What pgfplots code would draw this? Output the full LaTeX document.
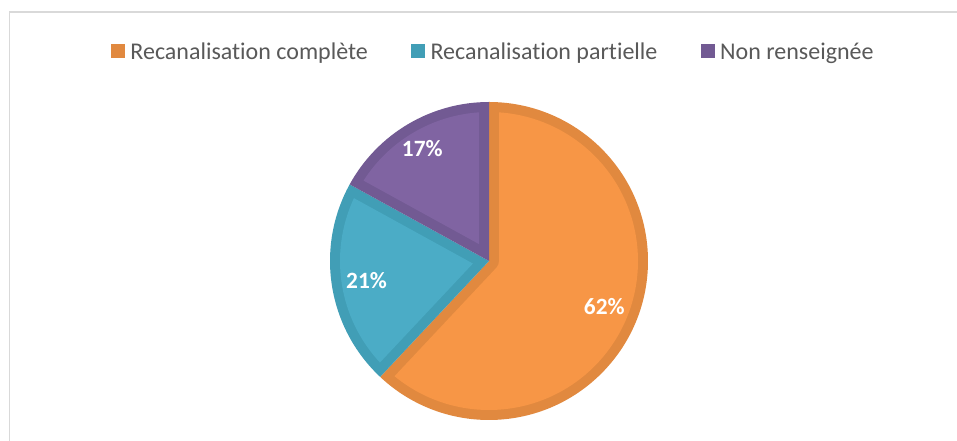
\documentclass[border=0pt]{standalone}
\usepackage{fontspec}
\setmainfont[Ligatures=NoCommon]{Carlito}
\usepackage{pgfplots}
\pgfplotsset{compat=1.18}
\definecolor{orL}{HTML}{F79646}
\definecolor{orD}{HTML}{E1893F}
\definecolor{teL}{HTML}{4BACC6}
\definecolor{teD}{HTML}{419EB6}
\definecolor{puL}{HTML}{8064A2}
\definecolor{puD}{HTML}{725A93}
\definecolor{legtext}{HTML}{595959}
\definecolor{frame}{HTML}{D9D9D9}
\begin{document}
\begin{tikzpicture}
% data (percent)
\def\vA{62}% Recanalisation complete
\def\vB{21}% Recanalisation partielle
\def\vC{17}% Non renseignee
% geometry (pixel units)
\pgfmathsetmacro\cx{489}\pgfmathsetmacro\cy{180}
\pgfmathsetmacro\R{159}\pgfmathsetmacro\d{10}
\pgfmathsetmacro\Ri{\R-\d}
\pgfmathsetmacro\dl{asin(\d/\Ri)}
\pgfmathsetmacro\Rpt{\R*0.75}
\pgfmathsetmacro\Ript{\Ri*0.75}
\pgfmathsetmacro\dpt{\d*0.75}
% angles
\pgfmathsetmacro\aA{90-3.6*\vA}\pgfmathsetmacro\bA{90}
\pgfmathsetmacro\aB{\aA-3.6*\vB}\pgfmathsetmacro\bB{\aA}
\pgfmathsetmacro\aC{\aB-3.6*\vC}\pgfmathsetmacro\bC{\aB}
% outer points
\pgfmathsetmacro\xA{\cx+\R*cos(\aA)}\pgfmathsetmacro\yA{\cy+\R*sin(\aA)}
\pgfmathsetmacro\xB{\cx+\R*cos(\aB)}\pgfmathsetmacro\yB{\cy+\R*sin(\aB)}
\pgfmathsetmacro\xC{\cx+\R*cos(\aC)}\pgfmathsetmacro\yC{\cy+\R*sin(\aC)}
% inner (inset) slice A (reflex)
\pgfmathsetmacro\pAx{\cx+\d*cos(\aA+90)}\pgfmathsetmacro\pAy{\cy+\d*sin(\aA+90)}
\pgfmathsetmacro\qAx{\cx+\Ri*cos(\aA+\dl)}\pgfmathsetmacro\qAy{\cy+\Ri*sin(\aA+\dl)}
\pgfmathsetmacro\sAa{\aA+\dl}\pgfmathsetmacro\sAb{\bA-\dl}
\pgfmathsetmacro\rAx{\cx+\d*cos(\bA-90)}\pgfmathsetmacro\rAy{\cy+\d*sin(\bA-90)}
\pgfmathsetmacro\tAa{\bA-90}\pgfmathsetmacro\tAb{\aA+90}
% inset slice B
\pgfmathsetmacro\mB{(\aB+\bB)/2}\pgfmathsetmacro\hB{\d/sin((\bB-\aB)/2)}
\pgfmathsetmacro\pBx{\cx+\hB*cos(\mB)}\pgfmathsetmacro\pBy{\cy+\hB*sin(\mB)}
\pgfmathsetmacro\qBx{\cx+\Ri*cos(\aB+\dl)}\pgfmathsetmacro\qBy{\cy+\Ri*sin(\aB+\dl)}
\pgfmathsetmacro\sBa{\aB+\dl}\pgfmathsetmacro\sBb{\bB-\dl}
% inset slice C
\pgfmathsetmacro\mC{(\aC+\bC)/2}\pgfmathsetmacro\hC{\d/sin((\bC-\aC)/2)}
\pgfmathsetmacro\pCx{\cx+\hC*cos(\mC)}\pgfmathsetmacro\pCy{\cy+\hC*sin(\mC)}
\pgfmathsetmacro\qCx{\cx+\Ri*cos(\aC+\dl)}\pgfmathsetmacro\qCy{\cy+\Ri*sin(\aC+\dl)}
\pgfmathsetmacro\sCa{\aC+\dl}\pgfmathsetmacro\sCb{\bC-\dl}
% label positions
\pgfmathsetmacro\mA{(\aA+\bA)/2}
\pgfmathsetmacro\lAx{\cx+124*cos(\mA)}\pgfmathsetmacro\lAy{\cy+124*sin(\mA)}
\pgfmathsetmacro\lBx{\cx+124*cos(\mB)}\pgfmathsetmacro\lBy{\cy+124*sin(\mB)}
\pgfmathsetmacro\lCx{\cx+131*cos(\mC)}\pgfmathsetmacro\lCy{\cy+131*sin(\mC)}
\begin{axis}[
  x=0.75pt, y=0.75pt,
  xmin=0, xmax=957, ymin=0, ymax=441,
  hide axis,
  clip=true,
  legend columns=3,
  legend image code/.code={\path[#1] (0pt,-4.3pt) rectangle (10.5pt,6.2pt);},
  legend style={
    draw=none, fill=none,
    at={(axis cs:495,389)}, anchor=center,
    font=\fontsize{18}{21}\selectfont, text=legtext,
    nodes={inner xsep=4pt, inner ysep=1pt},
    /tikz/every even column/.append style={column sep=28.5pt},
  },
]
% background and frame
\addplot[fill=white, draw=none, forget plot] coordinates {(0,0) (957,0) (957,441) (0,441)} -- cycle;
\addplot[draw=frame, line width=1.3pt, forget plot] coordinates {(9.5,-5) (9.5,429) (965,429)};
% dark (border) slices
\addplot[fill=orD, draw=none, forget plot] coordinates {(\cx,\cy) (\xA,\yA)} arc[start angle=\aA, end angle=\bA, radius=\Rpt pt] -- cycle;
\addplot[fill=teD, draw=none, forget plot] coordinates {(\cx,\cy) (\xB,\yB)} arc[start angle=\aB, end angle=\bB, radius=\Rpt pt] -- cycle;
\addplot[fill=puD, draw=none, forget plot] coordinates {(\cx,\cy) (\xC,\yC)} arc[start angle=\aC, end angle=\bC, radius=\Rpt pt] -- cycle;
% light (inner) slices
\addplot[fill=orL, draw=none, forget plot] coordinates {(\pAx,\pAy) (\qAx,\qAy)} arc[start angle=\sAa, end angle=\sAb, radius=\Ript pt] -- (\rAx,\rAy) arc[start angle=\tAa, end angle=\tAb, radius=\dpt pt] -- cycle;
\addplot[fill=teL, draw=none, forget plot] coordinates {(\pBx,\pBy) (\qBx,\qBy)} arc[start angle=\sBa, end angle=\sBb, radius=\Ript pt] -- cycle;
\addplot[fill=puL, draw=none, forget plot] coordinates {(\pCx,\pCy) (\qCx,\qCy)} arc[start angle=\sCa, end angle=\sCb, radius=\Ript pt] -- cycle;
% labels
\node[text=white, font=\fontsize{17.5}{20}\selectfont\bfseries] at (axis cs:\lAx,\lAy) {62\%};
\node[text=white, font=\fontsize{17.5}{20}\selectfont\bfseries] at (axis cs:\lBx,\lBy) {21\%};
\node[text=white, font=\fontsize{17.5}{20}\selectfont\bfseries] at (axis cs:\lCx,\lCy) {17\%};
% legend
\addlegendimage{fill=orD, draw=none}
\addlegendimage{fill=teD, draw=none}
\addlegendimage{fill=puD, draw=none}
\legend{Recanalisation complète, Recanalisation partielle, Non renseignée}
\end{axis}
\end{tikzpicture}
\end{document}
